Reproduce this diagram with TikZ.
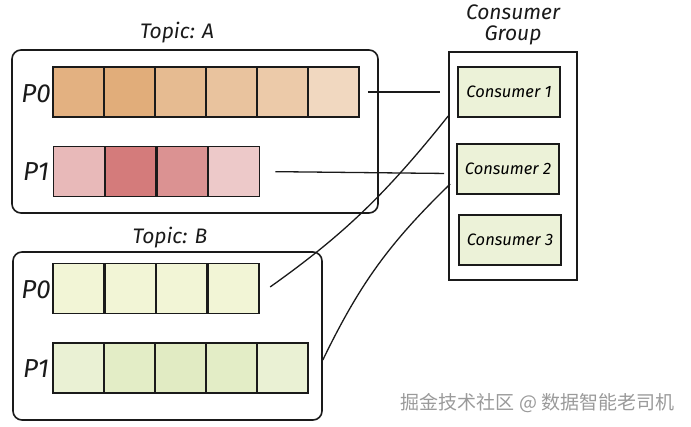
\documentclass[tikz,border=0pt]{standalone}
\usepackage{fontspec}
\setmainfont{Fira Sans}
\newfontfamily\cjk{Noto Sans CJK SC}
\usepackage{xcolor}
\usetikzlibrary{positioning,calc}
\definecolor{ink}{HTML}{1A1A1A}
\definecolor{peach}{HTML}{DC9E62}
\definecolor{rose}{HTML}{CC6464}
\definecolor{lime}{HTML}{F2F5D6}
\definecolor{leaf}{HTML}{DCE8B8}
\definecolor{mark}{HTML}{9A9A9A}
\begin{document}
\begin{tikzpicture}[x=1pt,y=-1pt,
  box/.style={draw=ink,line width=1.6pt,rounded corners=9pt},
  cell/.style={draw=ink,line width=1.6pt,minimum width=51pt,minimum height=50pt,inner sep=0pt},
  consumer/.style={draw=ink,line width=1.6pt,fill=leaf!55,minimum width=102pt,minimum height=50pt,inner sep=0pt,font=\fontsize{16.5}{19}\selectfont\itshape},
  title/.style={font=\fontsize{21}{23}\selectfont\itshape,text=ink,align=center},
  part/.style={font=\fontsize{26}{28}\selectfont\itshape,text=ink},
  link/.style={draw=ink,line width=1.3pt}]
\useasboundingbox (0,0) rectangle (691,427);
% topic A
\node[box,minimum width=366pt,minimum height=163pt] (topA) at (195,131.5) {};
\node[title] (topAlbl) at (177,33) {Topic: A};
\foreach \i/\t in {1/80,2/85,3/70,4/62,5/55,6/40}
  \node[cell,fill=peach!\t] (aP0-\i) at ({53+51*(\i-0.5)},92) {};
\foreach \i/\t in {1/45,2/85,3/70,4/35}
  \node[cell,fill=rose!\t] (aP1-\i) at ({53+51.75*(\i-0.5)},171.5) {};
\node[part] (aP0lbl) at (36,94) {P0};
\node[part] (aP1lbl) at (36,172) {P1};
% topic B
\node[box,minimum width=309pt,minimum height=168pt] (topB) at (167.5,336) {};
\node[title] (topBlbl) at (170,238) {Topic: B};
\foreach \i in {1,...,4}
  \node[cell,fill=lime] (bP0-\i) at ({53+51.5*(\i-0.5)},288.5) {};
\foreach \i/\t in {1/60,2/80,3/85,4/80,5/60}
  \node[cell,fill=leaf!\t] (bP1-\i) at ({53+51*(\i-0.5)},368) {};
\node[part] (bP0lbl) at (36,290) {P0};
\node[part] (bP1lbl) at (36,369) {P1};
% consumer group
\node[box,rounded corners=0pt,minimum width=128pt,minimum height=228pt] (grp) at (513,166) {};
\node[title] (grplbl) at (513,25) {Consumer\\[-2pt]Group};
\node[consumer] (c1) at (509,92) {Consumer 1};
\node[consumer] (c2) at (508,169) {Consumer 2};
\node[consumer] (c3) at (510,240) {Consumer 3};
% links
\draw[link,shorten <=8pt,shorten >=8pt] (aP0-6.east) -- (aP0-6.east -| grp.west);
\draw[link,shorten <=15pt,shorten >=4pt] (aP1-4.east) -- ($(aP1-4.east -| grp.west)+(0,2)$);
\draw[link,shorten <=13pt] ($(bP0-4.east)+(0,6)$) to[bend right=8] ($(grp.west)+(0,-50)$);
\draw[link] ($(bP1-5.east)+(14,-8)$) to[bend left=10] ($(grp.west)+(2,18)$);
% watermark
\node[font=\cjk\fontsize{19}{22}\selectfont,text=mark,anchor=east] (wm) at (678,403) {掘金技术社区 @ 数据智能老司机};
\end{tikzpicture}
\end{document}
